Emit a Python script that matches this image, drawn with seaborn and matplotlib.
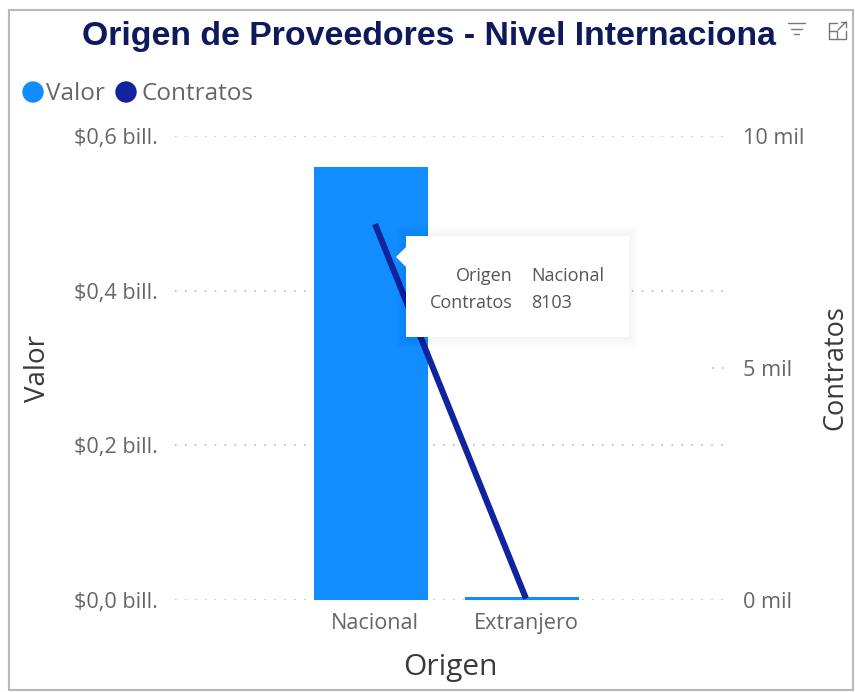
import matplotlib
matplotlib.use("Agg")
import matplotlib.pyplot as plt
import matplotlib.patches as mp
import matplotlib.transforms as mt
import pandas as pd
import seaborn as sns

categories = ["Nacional", "Extranjero"]
valor = [0.56, 0.004]
contratos = [8103, 30]
left_ticks = [0, 0.2, 0.4, 0.6]
left_labels = ["$0,0 bill.", "$0,2 bill.", "$0,4 bill.", "$0,6 bill."]
right_ticks = [0, 5000, 10000]
right_labels = ["0 mil", "5 mil", "10 mil"]
tooltip_keys = ["Origen", "Contratos"]
tooltip_vals = ["Nacional", "8103"]

W, H = 855, 692
BLUE, NAVY, GREY, DARK = "#118DFF", "#12239E", "#666666", "#3a3a3a"
DOT = "#b0b0b0"
sns.set_style("white")
plt.rcParams["font.family"] = ["Open Sans", "DejaVu Sans"]

df = pd.DataFrame({"Origen": categories, "Valor": valor, "Contratos": contratos})
fig = plt.figure(figsize=(W / 100, H / 100), dpi=100, facecolor="white")
L, R, T, B = 175, 725, 136, 600
ax = fig.add_axes([L / W, 1 - B / H, (R - L) / W, (B - T) / H])


def px(x, y):
    return x / W, 1 - y / H


sns.barplot(data=df, x="Origen", y="Valor", color=BLUE, saturation=1, width=0.76, ax=ax, zorder=3, linewidth=0)
ax.set_xlim((L - 371) / 151, (R - 371) / 151)
ax.set_ylim(0, 0.6)
ax.set_yticks(left_ticks, left_labels)
ax.grid(axis="y", color=DOT, lw=1.1, ls=(0, (1, 5.5)), zorder=0)
ax.set_axisbelow(True)
ax.tick_params(axis="both", length=0, labelcolor=GREY, labelsize=15.6)
ax.tick_params(axis="x", pad=9.5)
ax.tick_params(axis="y", pad=12)
for lab in ax.get_xticklabels():
    lab.set_transform(lab.get_transform() + mt.ScaledTranslation(4 / 100, 0, fig.dpi_scale_trans))
ax.set_xlabel("Origen", fontsize=21.5, color=DARK, va="center")
ax.xaxis.set_label_coords((450 - L) / (R - L), (B - 667) / (B - T))
ax.set_ylabel("Valor", fontsize=20, color=DARK, va="center")
ax.yaxis.set_label_coords((38 - L) / (R - L), 0.5)
sns.despine(ax=ax, left=True, right=True, top=True, bottom=True)

ax2 = ax.twinx()
off = ax2.transData + mt.ScaledTranslation(4 / 100, 0, fig.dpi_scale_trans)
sns.lineplot(data=df, x="Origen", y="Contratos", color=NAVY, lw=4.4, ax=ax2, transform=off,
             solid_capstyle="butt", zorder=5, sort=False, clip_on=False)
ax2.set_ylim(0, 10000)
ax2.set_yticks(right_ticks, right_labels)
ax2.tick_params(axis="y", length=0, labelcolor=GREY, labelsize=15.6, pad=13)
ax2.set_ylabel("Contratos", fontsize=19.5, color=DARK, va="center")
ax2.yaxis.set_label_coords((835 - L) / (R - L), 0.5)
ax2.grid(False)
sns.despine(ax=ax2, left=True, right=True, top=True, bottom=True)

# title, legend
fig.text(*px(429, 36), "Origen de Proveedores - Nivel Internaciona", ha="center", va="center",
         family="Liberation Sans", weight="bold", fontsize=24.4, color="#0F1A5C")
for cx, col in [(33, BLUE), (126, NAVY)]:
    fig.add_artist(mp.Ellipse(px(cx, 92), 20 / W, 20 / H, color=col, transform=fig.transFigure))
fig.text(*px(46, 94), "Valor", va="center", fontsize=17.5, color=GREY)
fig.text(*px(141, 94), "Contratos", va="center", fontsize=17.5, color=GREY)

# tooltip: soft shadow made of widening translucent layers, then the white box
for g in range(10, 0, -1):
    fig.add_artist(mp.Rectangle(px(406 - g, 338 + g), (223 + 2 * g) / W, (102 + 2 * g) / H, transform=fig.transFigure,
                                fc="#000000", ec="none", alpha=0.005, zorder=19))
fig.add_artist(mp.Rectangle(px(406, 337), 223 / W, 101 / H, transform=fig.transFigure, fc="white", ec="none", zorder=20))
fig.add_artist(mp.Polygon([px(407, 246), px(396, 257), px(407, 268)], transform=fig.transFigure,
                          fc="white", ec="none", zorder=21))
for y, k, v in zip([276, 303], tooltip_keys, tooltip_vals):
    fig.text(*px(513, y), k, ha="right", va="center", fontsize=13, color="#555555", zorder=22)
    fig.text(*px(531, y), v, ha="left", va="center", fontsize=13, color="#555555", zorder=22)

# short dotted stub by the right axis
fig.add_artist(plt.Line2D([712 / W, 724 / W], [1 - 368 / H] * 2, color=DOT, lw=1.1, ls=(0, (1, 5.5))))

# card border
fig.add_artist(mp.Rectangle(px(9, 690), 844 / W, 680 / H, transform=fig.transFigure, fc="none", ec="#b8b8b8", lw=1.5, zorder=30))


def stroke(points):
    xs = [p[0] / W for p in points]
    ys = [1 - p[1] / H for p in points]
    fig.add_artist(plt.Line2D(xs, ys, color="#777777", lw=1))


# header icons
stroke([(788, 23), (805, 23)])
stroke([(791, 29), (802, 29)])
stroke([(794, 34), (799, 34)])
stroke([(837, 23), (829, 23), (829, 39), (846, 39), (846, 31)])
stroke([(829, 31), (837, 31), (837, 39)])
stroke([(838, 30), (846, 22)])
stroke([(841, 22), (846, 22), (846, 27)])

fig.savefig("out.png", dpi=100)
